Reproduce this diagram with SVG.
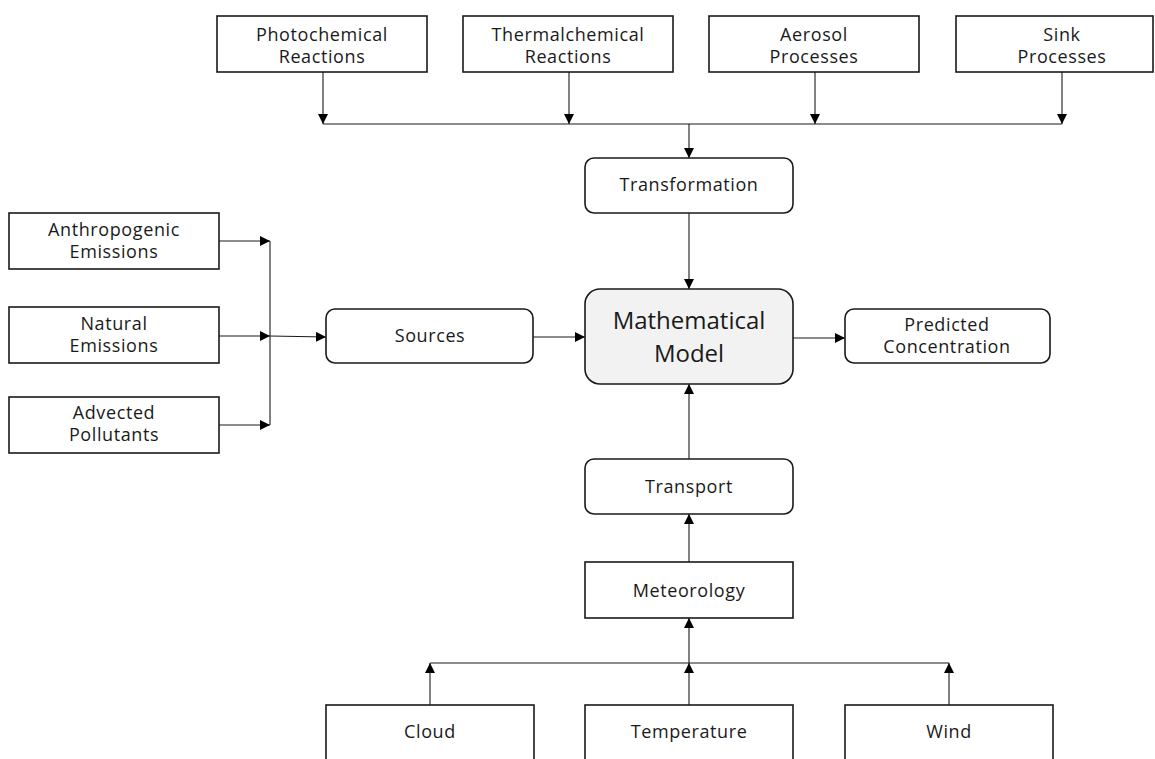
<svg xmlns="http://www.w3.org/2000/svg" width="1155" height="759" viewBox="0 0 1155 759">
<style>
.box{fill:#fff;stroke:#1a1a1a;stroke-width:1.6}
.model{fill:#f2f2f2;stroke:#1a1a1a;stroke-width:1.6}
.t{font-family:"Open Sans","Noto Sans",sans-serif;font-size:18px;letter-spacing:0.6px;fill:#1a1a1a;text-anchor:middle}
.tm{font-family:"Open Sans","Noto Sans",sans-serif;font-size:24px;fill:#1a1a1a;text-anchor:middle}
.ln{fill:none;stroke:#1a1a1a;stroke-width:1.1}
.ar{fill:none;stroke:#1a1a1a;stroke-width:1.1;marker-end:url(#ah)}
</style>
<defs>
<marker id="ah" viewBox="0 0 10 10" refX="10" refY="5" markerWidth="10" markerHeight="10" markerUnits="userSpaceOnUse" orient="auto">
<path d="M0,0 L10,5 L0,10 Z" fill="#000"/>
</marker>
</defs>
<rect width="1155" height="759" fill="#fff"/>
<g id="connectors">
<line class="ar" x1="323" y1="72" x2="323" y2="124"/>
<line class="ar" x1="569" y1="72" x2="569" y2="124"/>
<line class="ar" x1="815" y1="72" x2="815" y2="124"/>
<line class="ar" x1="1062" y1="72" x2="1062" y2="124"/>
<line class="ln" x1="323" y1="124" x2="1062" y2="124"/>
<line class="ar" x1="689" y1="124" x2="689" y2="158"/>
<line class="ar" x1="689" y1="213" x2="689" y2="289"/>
<line class="ar" x1="219" y1="241" x2="270" y2="241"/>
<line class="ar" x1="219" y1="336" x2="270" y2="336"/>
<line class="ar" x1="219" y1="425" x2="270" y2="425"/>
<line class="ln" x1="270" y1="241" x2="270" y2="425"/>
<line class="ar" x1="270" y1="336" x2="326" y2="337"/>
<line class="ar" x1="533" y1="337" x2="585" y2="337"/>
<line class="ar" x1="793" y1="338" x2="845" y2="338"/>
<line class="ar" x1="689" y1="459" x2="689" y2="384"/>
<line class="ar" x1="689" y1="562" x2="689" y2="514"/>
<line class="ar" x1="689" y1="663" x2="689" y2="618"/>
<line class="ln" x1="430" y1="663" x2="949" y2="663"/>
<line class="ar" x1="430" y1="705" x2="430" y2="663"/>
<line class="ar" x1="689" y1="705" x2="689" y2="663"/>
<line class="ar" x1="949" y1="705" x2="949" y2="663"/>
</g>
<g id="photochemical"><rect class="box" x="217" y="16" width="210" height="56"/><text class="t" x="322" y="41">Photochemical</text><text class="t" x="322" y="63">Reactions</text></g>
<g id="thermalchemical"><rect class="box" x="463" y="16" width="210" height="56"/><text class="t" x="568" y="41">Thermalchemical</text><text class="t" x="568" y="63">Reactions</text></g>
<g id="aerosol"><rect class="box" x="709" y="16" width="210" height="56"/><text class="t" x="814" y="41">Aerosol</text><text class="t" x="814" y="63">Processes</text></g>
<g id="sink"><rect class="box" x="956" y="16" width="197" height="56"/><text class="t" x="1062" y="41">Sink</text><text class="t" x="1062" y="63">Processes</text></g>
<g id="transformation"><rect class="box" x="585" y="158" width="208" height="55" rx="9"/><text class="t" x="689" y="191">Transformation</text></g>
<g id="anthropogenic"><rect class="box" x="9" y="213" width="210" height="56"/><text class="t" x="114" y="236">Anthropogenic</text><text class="t" x="114" y="258">Emissions</text></g>
<g id="natural"><rect class="box" x="9" y="307" width="210" height="56"/><text class="t" x="114" y="330">Natural</text><text class="t" x="114" y="352">Emissions</text></g>
<g id="advected"><rect class="box" x="9" y="397" width="210" height="56"/><text class="t" x="114" y="419">Advected</text><text class="t" x="114" y="441">Pollutants</text></g>
<g id="sources"><rect class="box" x="326" y="309" width="207" height="54" rx="9"/><text class="t" x="430" y="342">Sources</text></g>
<g id="model"><rect class="model" x="585" y="289" width="208" height="95" rx="15"/><text class="tm" x="689" y="329">Mathematical</text><text class="tm" x="689" y="362">Model</text></g>
<g id="predicted"><rect class="box" x="845" y="309" width="205" height="54" rx="9"/><text class="t" x="947" y="331">Predicted</text><text class="t" x="947" y="353">Concentration</text></g>
<g id="transport"><rect class="box" x="585" y="459" width="208" height="55" rx="9"/><text class="t" x="689" y="493">Transport</text></g>
<g id="meteorology"><rect class="box" x="585" y="562" width="208" height="56"/><text class="t" x="689" y="597">Meteorology</text></g>
<g id="cloud"><rect class="box" x="326" y="705" width="208" height="70"/><text class="t" x="430" y="738">Cloud</text></g>
<g id="temperature"><rect class="box" x="585" y="705" width="208" height="70"/><text class="t" x="689" y="738">Temperature</text></g>
<g id="wind"><rect class="box" x="845" y="705" width="208" height="70"/><text class="t" x="949" y="738">Wind</text></g>
</svg>
